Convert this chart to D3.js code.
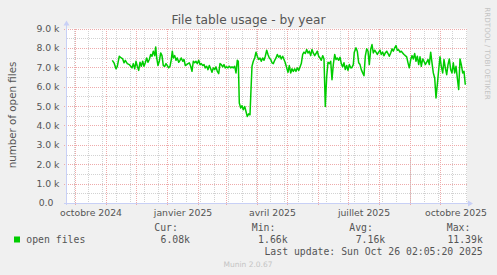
<!DOCTYPE html>
<html>
<head>
<meta charset="utf-8">
<script src="https://cdn.jsdelivr.net/npm/d3@7"></script>
<style>
body { margin: 0; background: #f0f0f0; }
svg { display: block; }
</style>
</head>
<body>
<svg id="chart" width="497" height="275"></svg>
<script>
const title = "File table usage - by year";
const yLabel = "number of open files";
const seriesName = "open files";
const sideText = "RRDTOOL / TOBI OETIKER";
const lastUpdate = "Last update: Sun Oct 26 02:05:20 2025";
const credit = "Munin 2.0.67";

// days since 2024-10-01 and the number of open files (thousands)
const sampleDays = [
    37.3, 39, 41, 42.3, 44.3, 46.3, 47.7, 49, 50.3, 52.3, 54.3, 55.7, 57, 58.3, 59.7, 61, 62.3, 63.7, 65, 66.3,
    67.7, 69, 70.3, 71.7, 73, 74.3, 75.7, 77, 78.3, 79.7, 80.7, 81.7, 83, 84.3, 85.7, 87, 88.3, 89.7, 91, 92.3,
    93.7, 95, 96.3, 97.3, 98.3, 99.7, 101, 102.3, 103.7, 105, 106.3, 107.7, 109, 110.3, 111.7, 113, 114.3, 115.7, 117, 118.3,
    119.7, 121, 122.3, 123.7, 125, 126.3, 127.7, 129, 130.3, 131.7, 133, 134.3, 135.7, 137, 138.3, 139.7, 141, 142.3, 143.7, 145,
    146.3, 147.7, 149, 150.3, 151.7, 153, 154.3, 155.7, 157, 158.3, 159.7, 161, 162.3, 163.3, 164.3, 165.7, 167, 168.3, 169.7, 171,
    172.3, 173.7, 175, 176, 177, 178.3, 179.7, 181, 182.3, 183.7, 185, 186.3, 187.7, 189, 190.3, 191.7, 193, 194.3, 195.7, 197,
    198.3, 199.7, 201, 202.3, 203.7, 205, 206.3, 207.7, 209, 210.3, 211.7, 213, 214.3, 215.7, 217, 218.3, 219.7, 221, 222.3, 223.7,
    225, 226.3, 227.7, 229, 230.3, 231.7, 233, 234.3, 235.7, 237, 238.3, 239.7, 241, 242.3, 243.7, 245, 246.3, 247.7, 249, 250.3,
    251.7, 253, 254.3, 255.7, 257, 258.3, 259.7, 261, 262.3, 263.7, 265, 266.3, 267.7, 269, 270.3, 271.7, 273, 274.3, 275.7, 276.7,
    278.3, 279.3, 281, 282.3, 283.7, 285, 286.3, 287.7, 289, 290.3, 291.7, 293, 294.3, 295.7, 297, 298.3, 299.7, 301, 302.3, 303.7,
    305, 306.3, 307.7, 309, 310.3, 311.7, 313, 314.3, 315.7, 317, 318.3, 319.7, 321, 322.3, 323.7, 325, 326.3, 327.7, 329, 330.3,
    331.7, 333, 334.3, 335.7, 337, 338.3, 339.7, 341, 342.3, 343.7, 345, 346.3, 347.7, 349, 350.3, 351.7, 353, 354.3, 355.7, 357,
    358.3, 359.7, 361, 362.3, 363.7, 365, 366.3, 367.7, 369, 370.3, 371.7, 373, 374.3, 375.7, 377, 378.3, 379.7, 381, 382.3, 383.7,
    385, 386.3, 387.7, 389, 390.3
];
const openFilesK = [
    7.36, 7.23, 6.92, 7.05, 7.57, 7.48, 7.43, 7.23, 7.36, 7.19, 7.14, 7.05, 6.97, 7.19, 6.92, 7.31, 7.05, 6.84, 7.26, 7.05,
    7.31, 7.05, 7.23, 7.48, 7.26, 7.40, 7.66, 7.57, 7.83, 7.60, 8.05, 7.48, 7.09, 7.31, 7.74, 7.60, 7.09, 7.05, 7.19, 7.09,
    6.97, 7.05, 7.40, 7.83, 7.48, 7.60, 7.36, 7.48, 7.26, 7.36, 7.48, 7.31, 7.40, 7.09, 7.14, 7.19, 7.23, 7.05, 6.79, 7.31,
    7.23, 7.31, 7.19, 7.36, 7.14, 7.19, 7.09, 7.14, 6.97, 7.05, 6.88, 7.09, 6.92, 6.74, 6.97, 6.88, 7.02, 6.79, 6.67, 7.19,
    7.14, 7.02, 7.14, 6.97, 7.02, 6.97, 7.05, 6.97, 7.02, 6.97, 7.05, 6.71, 7.36, 7.31, 5.16, 4.90, 5.02, 4.81, 4.98, 4.72,
    4.46, 4.60, 4.55, 5.85, 7.05, 7.31, 7.48, 7.78, 7.57, 7.40, 7.48, 7.31, 7.48, 7.36, 7.57, 7.88, 7.66, 7.48, 7.40, 7.23,
    7.19, 7.36, 7.48, 7.66, 7.52, 7.60, 7.43, 7.57, 7.40, 7.23, 6.97, 6.74, 7.09, 6.71, 6.92, 6.79, 6.92, 6.79, 6.97, 6.84,
    7.02, 7.19, 7.66, 7.78, 7.71, 7.92, 7.74, 7.83, 7.60, 7.92, 7.74, 7.60, 7.71, 7.83, 7.57, 7.48, 7.36, 7.60, 7.43, 4.98,
    6.53, 7.26, 7.19, 7.31, 6.36, 7.14, 7.66, 7.40, 7.48, 7.36, 7.52, 7.19, 7.02, 7.23, 6.88, 7.09, 6.84, 7.14, 6.97, 6.97,
    7.14, 7.78, 8.00, 7.83, 7.23, 7.14, 6.88, 6.71, 6.57, 7.57, 7.95, 7.83, 7.14, 7.92, 8.17, 7.74, 7.88, 7.78, 7.66, 7.78,
    7.88, 7.66, 7.78, 7.60, 7.74, 7.83, 7.71, 7.57, 7.74, 7.95, 7.83, 8.00, 8.12, 7.88, 7.90, 7.78, 7.83, 7.74, 7.66, 7.60,
    7.54, 7.23, 6.97, 7.40, 7.60, 7.43, 7.71, 7.31, 7.57, 7.14, 7.54, 7.05, 7.43, 7.31, 7.14, 7.26, 7.40, 7.14, 7.78, 7.23,
    6.71, 6.45, 5.42, 6.10, 6.88, 7.54, 7.05, 6.71, 7.40, 6.97, 6.62, 7.14, 7.43, 6.88, 6.71, 7.23, 6.71, 7.05, 6.45, 5.85,
    7.43, 7.14, 6.71, 6.79, 6.10
];

const yTicks = [0, 1, 2, 3, 4, 5, 6, 7, 8, 9];
const yMinorTicks = [0.5, 1.5, 2.5, 3.5, 4.5, 5.5, 6.5, 7.5, 8.5];
const monthLabels = ["octobre 2024", "janvier 2025", "avril 2025", "juillet 2025", "octobre 2025"];
const labelMonths = [[2024, 9], [2025, 0], [2025, 3], [2025, 6], [2025, 9]];
const legendHeads = ["Cur:", "Min:", "Avg:", "Max:"];
const legendValues = ["6.08k", "1.66k", "7.16k", "11.39k"];

const plot = { left: 67, right: 467, top: 28.5, bottom: 203 };
const gridRed = "#eeaaaa";
const gridGray = "#d2d2d2";
const axisBlue = "#c8d0f6";
const textColor = "#555";

const svg = d3.select("#chart");
const startDate = new Date(Date.UTC(2024, 9, 1));
const dayMs = 24 * 3600 * 1000;

const xScale = d3.scaleUtc()
    .domain([new Date(Date.UTC(2024, 8, 23)), new Date(Date.UTC(2025, 9, 28))])
    .range([plot.left, plot.right]);
const yScale = d3.scaleLinear()
    .domain([0, 9])
    .range([plot.bottom, plot.top]);

// canvas
svg.append("rect")
    .attr("x", plot.left).attr("y", plot.top)
    .attr("width", plot.right - plot.left).attr("height", plot.bottom - plot.top)
    .attr("fill", "#fff");

const grid = svg.append("g").attr("shape-rendering", "crispEdges");

// minor grid: every other monday, half thousands
const biWeeks = d3.utcDay.range(new Date(Date.UTC(2024, 8, 30)), xScale.domain()[1], 14);
grid.selectAll(".vminor")
    .data(biWeeks)
    .join("line")
    .attr("x1", d => Math.round(xScale(d)) + 0.5).attr("x2", d => Math.round(xScale(d)) + 0.5)
    .attr("y1", plot.top).attr("y2", plot.bottom)
    .attr("stroke", gridGray).attr("stroke-dasharray", "1,1");
grid.selectAll(".hminor")
    .data(yMinorTicks)
    .join("line")
    .attr("x1", plot.left).attr("x2", plot.right)
    .attr("y1", d => Math.round(yScale(d)) + 0.5).attr("y2", d => Math.round(yScale(d)) + 0.5)
    .attr("stroke", gridGray).attr("stroke-dasharray", "1,1");

// major grid: month starts, whole thousands
const months = d3.utcMonth.range(xScale.domain()[0], xScale.domain()[1]);
grid.selectAll(".vmajor")
    .data(months)
    .join("line")
    .attr("x1", d => Math.round(xScale(d)) + 0.5).attr("x2", d => Math.round(xScale(d)) + 0.5)
    .attr("y1", plot.top).attr("y2", plot.bottom + 3)
    .attr("stroke", gridRed).attr("stroke-dasharray", "1,1");
grid.selectAll(".hmajor")
    .data(yTicks.filter(d => d > 0))
    .join("line")
    .attr("x1", plot.left - 3).attr("x2", plot.right)
    .attr("y1", d => Math.round(yScale(d)) + 0.5).attr("y2", d => Math.round(yScale(d)) + 0.5)
    .attr("stroke", gridRed).attr("stroke-dasharray", "1,1");

// axes
const axes = svg.append("g");
axes.append("line")
    .attr("x1", plot.left - 0.5).attr("x2", plot.left - 0.5)
    .attr("y1", plot.bottom + 2).attr("y2", plot.top - 4)
    .attr("stroke", axisBlue);
axes.append("line")
    .attr("x1", plot.left - 3).attr("x2", plot.right + 2)
    .attr("y1", plot.bottom + 0.5).attr("y2", plot.bottom + 0.5)
    .attr("stroke", axisBlue);
axes.append("path")
    .attr("d", `M${plot.left - 3.5},${plot.top - 3} L${plot.left + 2.5},${plot.top - 3} L${plot.left - 0.5},${plot.top - 8} Z`)
    .attr("fill", axisBlue);
axes.append("path")
    .attr("d", `M${plot.right + 1},${plot.bottom - 2.5} L${plot.right + 1},${plot.bottom + 3.5} L${plot.right + 6},${plot.bottom + 0.5} Z`)
    .attr("fill", axisBlue);

// y tick labels
const yAxis = d3.axisLeft(yScale)
    .tickValues(yTicks)
    .tickSize(0)
    .tickPadding(7.5)
    .tickFormat(d => d === 0 ? "0.0" : d.toFixed(1) + " k");
svg.append("g")
    .attr("transform", `translate(${plot.left},0)`)
    .call(yAxis)
    .call(g => g.select(".domain").remove())
    .call(g => g.selectAll("text")
        .attr("font-family", "DejaVu Sans")
        .attr("font-size", 9.3)
        .attr("fill", textColor)
        .attr("dx", d => d === 0 ? -6 : 0));

// x labels, centred in their month
const labelDates = labelMonths.map(([yr, m]) => {
    const a = Date.UTC(yr, m, 1), b = Date.UTC(yr, m + 1, 1);
    return new Date((a + b) / 2);
});
const xAxis = d3.axisBottom(xScale)
    .tickValues(labelDates)
    .tickSize(0)
    .tickPadding(6)
    .tickFormat((d, i) => monthLabels[i]);
svg.append("g")
    .attr("transform", `translate(0,${plot.bottom})`)
    .call(xAxis)
    .call(g => g.select(".domain").remove())
    .call(g => g.selectAll("text")
        .attr("font-family", "DejaVu Sans")
        .attr("font-size", 9.3)
        .attr("fill", textColor));

// series
const points = sampleDays.map((d, i) => ({
    date: new Date(startDate.getTime() + d * dayMs),
    value: openFilesK[i]
}));
const line = d3.line()
    .x(d => xScale(d.date))
    .y(d => yScale(d.value));
svg.append("path")
    .datum(points)
    .attr("d", line)
    .attr("fill", "none")
    .attr("stroke", "#00cc00")
    .attr("stroke-width", 1.5)
    .attr("stroke-linejoin", "round");

// titles
svg.append("text")
    .attr("x", 248.5).attr("y", 24)
    .attr("text-anchor", "middle")
    .attr("font-family", "DejaVu Sans").attr("font-size", 12.2)
    .attr("fill", textColor)
    .text(title);
svg.append("text")
    .attr("transform", "translate(15.5,115) rotate(-90)")
    .attr("text-anchor", "middle")
    .attr("font-family", "DejaVu Sans").attr("font-size", 10.3)
    .attr("fill", textColor)
    .text(yLabel);
svg.append("text")
    .attr("transform", "translate(484.5,53.5) rotate(90)")
    .attr("text-anchor", "middle")
    .attr("font-family", "DejaVu Sans").attr("font-size", 7.2)
    .attr("fill", "#c4c4c4")
    .text(sideText);

// legend
const legend = svg.append("g")
    .attr("font-family", "DejaVu Sans Mono")
    .attr("font-size", 9.8)
    .attr("fill", textColor);
legend.append("rect")
    .attr("x", 14).attr("y", 236.5).attr("width", 6).attr("height", 6)
    .attr("fill", "#00cc00");
legend.append("text")
    .attr("x", 26.3).attr("y", 243)
    .text(seriesName);
legend.selectAll(".head")
    .data(legendHeads)
    .join("text")
    .attr("x", (d, i) => 154.3 + i * 97.5).attr("y", 231)
    .text(d => d);
legend.selectAll(".val")
    .data(legendValues)
    .join("text")
    .attr("x", (d, i) => 190 + i * 97.6).attr("y", 243)
    .attr("text-anchor", "end")
    .text(d => d);
legend.append("text")
    .attr("x", 482.7).attr("y", 255)
    .attr("text-anchor", "end")
    .text(lastUpdate);

svg.append("text")
    .attr("x", 248).attr("y", 267)
    .attr("text-anchor", "middle")
    .attr("font-family", "DejaVu Sans").attr("font-size", 7.5)
    .attr("fill", "#c4c4c4")
    .text(credit);
</script>
</body>
</html>
